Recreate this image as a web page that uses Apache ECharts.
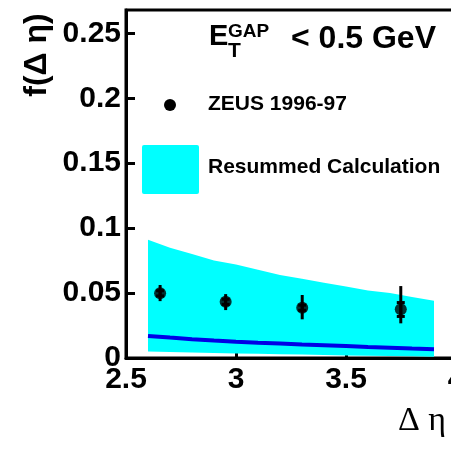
<!DOCTYPE html>
<html>
<head>
<meta charset="utf-8">
<script src="https://cdn.jsdelivr.net/npm/echarts@6/dist/echarts.min.js"></script>
<style>
  html, body { margin: 0; padding: 0; background: #fff; }
  #chart { width: 451px; height: 450px; }
</style>
</head>
<body>
<div id="chart"></div>
<script>
// ZEUS 1996-97 data points
const dataX = [2.655, 2.953, 3.301, 3.749];
const dataY = [0.0498, 0.0433, 0.0387, 0.0375];
const totLow = [0.0438, 0.0369, 0.0298, 0.0267];
const totHigh = [0.0562, 0.0492, 0.0485, 0.0554];
const statLow = [0.0478, 0.0413, 0.0367, 0.0320];
const statHigh = [0.0518, 0.0453, 0.0407, 0.0427];

// Resummed calculation band and central line
const bandX = [2.6, 2.7, 2.8, 2.9, 3.0, 3.1, 3.2, 3.3, 3.4, 3.5, 3.6, 3.7, 3.8, 3.9];
const bandLow = [0.0050, 0.0046, 0.0042, 0.0038, 0.0035, 0.0032, 0.0029, 0.0026, 0.0023, 0.0020, 0.0018, 0.0015, 0.0013, 0.0010];
const bandHigh = [0.091, 0.085, 0.080, 0.075, 0.072, 0.068, 0.064, 0.061, 0.058, 0.055, 0.052, 0.050, 0.047, 0.044];
const lineY = [0.0170, 0.0157, 0.0145, 0.0135, 0.0126, 0.0118, 0.0111, 0.0104, 0.0098, 0.0092, 0.0085, 0.0079, 0.0073, 0.0068];

const xMin = 2.5, xMax = 4, xStep = 0.5;
const yMin = 0, yMax = 0.268, yStep = 0.05;

const chart = echarts.init(document.getElementById('chart'), null, { renderer: 'canvas' });

const FONT = 'Liberation Sans, Arial, Helvetica, sans-serif';

function errRender(capHalf) {
  return function (params, api) {
    const x = api.value(0);
    const lo = api.coord([x, api.value(1)]);
    const hi = api.coord([x, api.value(2)]);
    const st = { stroke: '#000', lineWidth: 3 };
    const children = [{
      type: 'line',
      shape: { x1: lo[0], y1: lo[1], x2: hi[0], y2: hi[1] },
      style: st
    }];
    if (capHalf > 0) {
      children.push({ type: 'line', shape: { x1: lo[0] - capHalf, y1: lo[1], x2: lo[0] + capHalf, y2: lo[1] }, style: st });
      children.push({ type: 'line', shape: { x1: hi[0] - capHalf, y1: hi[1], x2: hi[0] + capHalf, y2: hi[1] }, style: st });
    }
    return { type: 'group', children: children };
  };
}

function bandRender(params, api) {
  if (params.dataIndex !== 0) return null;
  const pts = [];
  for (let i = 0; i < bandX.length; i++) pts.push(api.coord([bandX[i], bandHigh[i]]));
  for (let i = bandX.length - 1; i >= 0; i--) pts.push(api.coord([bandX[i], bandLow[i]]));
  return {
    type: 'polygon',
    shape: { points: pts },
    style: { fill: '#00ffff', stroke: null }
  };
}

const option = {
  animation: false,
  backgroundColor: '#fff',
  grid: {
    left: 126, top: 10, width: 330, bottom: 92,
    containLabel: false, outerBoundsMode: 'none',
    show: true, borderColor: '#000', borderWidth: 3, backgroundColor: 'transparent'
  },
  xAxis: {
    type: 'value', min: xMin, max: xMax, interval: xStep,
    axisLine: { show: true, lineStyle: { color: '#000', width: 3 } },
    axisTick: { show: true, inside: true, length: 6, lineStyle: { color: '#000', width: 3 } },
    splitLine: { show: false },
    axisLabel: {
      color: '#000', fontSize: 30, fontWeight: 'bold', fontFamily: FONT, margin: 7,
      hideOverlap: false,
      formatter: v => String(v)
    }
  },
  yAxis: {
    type: 'value', min: yMin, max: yMax, interval: yStep,
    axisLine: { show: true, lineStyle: { color: '#000', width: 3 } },
    axisTick: { show: true, inside: true, length: 9, lineStyle: { color: '#000', width: 3 } },
    splitLine: { show: false },
    axisLabel: {
      color: '#000', fontSize: 30, fontWeight: 'bold', fontFamily: FONT, margin: 5,
      showMaxLabel: false,
      formatter: v => (v === 0 ? '0' : String(+v.toFixed(2)))
    }
  },
  series: [
    {
      type: 'custom', name: 'Resummed Calculation band', silent: true,
      data: bandX.map((x, i) => [x, bandLow[i], bandHigh[i]]),
      renderItem: bandRender, z: 1
    },
    {
      type: 'line', name: 'central', symbol: 'none', smooth: false,
      data: bandX.map((x, i) => [x, lineY[i]]),
      lineStyle: { color: '#0000e6', width: 4 }, z: 2
    },
    {
      type: 'custom', name: 'totErr',
      data: dataX.map((x, i) => [x, totLow[i], totHigh[i]]),
      renderItem: errRender(0), z: 3
    },
    {
      type: 'custom', name: 'statErr',
      data: dataX.map((x, i) => [x, statLow[i], statHigh[i]]),
      renderItem: errRender(4), z: 3
    },
    {
      type: 'scatter', name: 'ZEUS 1996-97',
      data: dataX.map((x, i) => [x, dataY[i]]),
      symbol: 'circle', symbolSize: 12,
      itemStyle: { color: '#000' }, z: 4
    }
  ],
  graphic: [
    // Title
    { type: 'text', left: 209, top: 22, style: { text: 'E', font: 'bold 29px ' + FONT, fill: '#000' } },
    { type: 'text', left: 228, top: 22, style: { text: 'GAP', font: 'bold 19px ' + FONT, fill: '#000' } },
    { type: 'text', left: 228, top: 41, style: { text: 'T', font: 'bold 21px ' + FONT, fill: '#000' } },
    { type: 'text', left: 291, top: 23, style: { text: '< 0.5 GeV', font: 'bold 32px ' + FONT, fill: '#000' } },
    // Legend
    { type: 'circle', shape: { cx: 170, cy: 105, r: 6 }, style: { fill: '#000' } },
    { type: 'text', left: 208, top: 94, style: { text: 'ZEUS 1996-97', font: 'bold 21px ' + FONT, fill: '#000' } },
    { type: 'rect', shape: { x: 142, y: 145, width: 57, height: 49, r: 2 }, style: { fill: '#00ffff' } },
    { type: 'text', left: 208, top: 157, style: { text: 'Resummed Calculation', font: 'bold 21px ' + FONT, fill: '#000' } },
    // Axis titles
    { type: 'text', x: 37, y: 55, rotation: Math.PI / 2,
      style: { text: 'f(\u0394 \u03b7)', font: 'bold 32px ' + FONT, fill: '#000', align: 'center', verticalAlign: 'middle' } },
    { type: 'text', left: 398, top: 404, style: { text: '\u0394 \u03b7', font: '34px Liberation Serif, Times New Roman, serif', fill: '#000' } }
  ]
};

chart.setOption(option);
</script>
</body>
</html>
